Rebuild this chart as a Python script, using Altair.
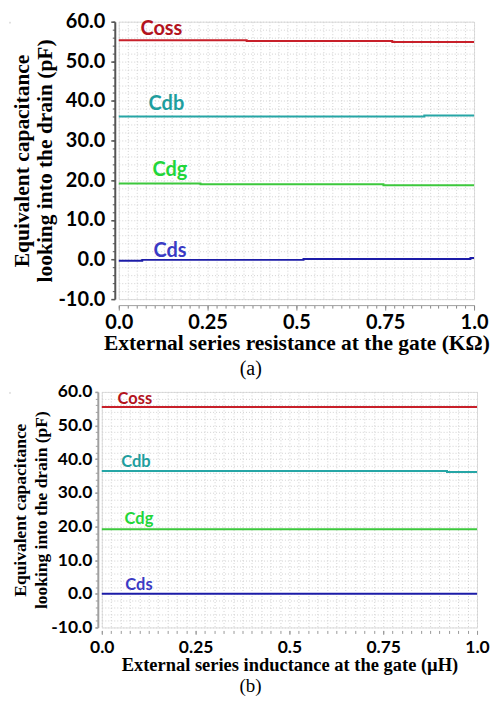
import altair as alt
import pandas as pd

SERIES = ["Coss", "Cdb", "Cdg", "Cds"]
LINE_COLORS = ["#C8202A", "#26A6A6", "#3CC83C", "#1C1CA8"]
TEXT_COLORS = ["#B3131D", "#1E9E9E", "#22D63A", "#3A3AC4"]

# ---- panel (a): external series resistance ----
A_X = {
    "Coss": [0.0, 0.36, 0.77, 1.0],
    "Cdb": [0.0, 0.86, 1.0],
    "Cdg": [0.0, 0.23, 0.745, 1.0],
    "Cds": [0.0, 0.066, 0.52, 0.99, 1.0],
}
A_Y = {
    "Coss": [55.3, 55.1, 54.9, 54.9],
    "Cdb": [36.1, 36.35, 36.35],
    "Cdg": [19.2, 19.0, 18.75, 18.75],
    "Cds": [-0.35, -0.1, 0.1, 0.35, 0.35],
}
A_LABEL_X = [0.12, 0.134, 0.144, 0.144]
A_LABEL_Y = [58.2, 39.3, 22.6, 2.1]

# ---- panel (b): external series inductance ----
B_X = {
    "Coss": [0.0, 1.0],
    "Cdb": [0.0, 0.92, 1.0],
    "Cdg": [0.0, 1.0],
    "Cds": [0.0, 1.0],
}
B_Y = {
    "Coss": [55.5, 55.5],
    "Cdb": [36.5, 36.2, 36.2],
    "Cdg": [19.2, 19.2],
    "Cds": [0.0, 0.0],
}
B_LABEL_X = [0.088, 0.091, 0.099, 0.099]
B_LABEL_Y = [57.8, 39.2, 22.2, 2.7]

X_MAJOR = [0.0, 0.25, 0.5, 0.75, 1.0]
X_MINOR = [round(i * 0.025, 3) for i in range(41)]
Y_MAJOR = [-10, 0, 10, 20, 30, 40, 50, 60]
Y_MINOR = list(range(-10, 61, 2))

A_XTITLE = "External series resistance at the gate (KΩ)"
B_XTITLE = "External series inductance at the gate (µH)"
YTITLE = ["Equivalent capacitance", "looking into the drain (pF)"]

X_LABEL_EXPR = ("datum.value == 0 || datum.value == 1 ? format(datum.value, '.1f') "
                ": format(datum.value, '.2~f')")
# plain hyphen for negatives, as in the original figure
Y_LABEL_EXPR = ("datum.value < 0 ? '-' + format(-datum.value, '.1f') "
                ": format(datum.value, '.1f')")


def line_df(xs, ys):
    rows = []
    for s in SERIES:
        for xv, yv in zip(xs[s], ys[s]):
            rows.append({"series": s, "x": xv, "y": yv})
    return pd.DataFrame(rows)


def panel(xs, ys, lx, ly, xtitle, caption, w, h, s):
    df = line_df(xs, ys)
    lab = pd.DataFrame({"series": SERIES, "x": lx, "y": ly})
    xsc = alt.Scale(domain=[0, 1], nice=False, zero=False)
    ysc = alt.Scale(domain=[-10, 60], nice=False, zero=False)

    minor = alt.Chart(df).mark_line(opacity=0).encode(
        x=alt.X("x:Q", scale=xsc, axis=alt.Axis(
            orient="bottom", values=X_MINOR, grid=True, gridColor="#d2d2d2",
            gridDash=[1, 2], gridWidth=1, domain=False, offset=s["xoff"],
            tickSize=3, tickColor=s["tickc"], labels=False, title=None)),
        y=alt.Y("y:Q", scale=ysc, axis=alt.Axis(
            orient="left", values=Y_MINOR, grid=True, gridColor="#d2d2d2",
            gridDash=[1, 2], gridWidth=1, domain=False, offset=s["yoff"],
            tickSize=2.5, tickColor=s["ydomc"], labels=False, title=None)),
        detail="series:N",
    )

    lines = alt.Chart(df).mark_line(interpolate="step-after", strokeWidth=2).encode(
        x=alt.X("x:Q", scale=xsc, axis=alt.Axis(
            orient="bottom", values=X_MAJOR, grid=False, domain=s["xdom"],
            domainColor="#a0a0a0", domainWidth=1, offset=s["xoff"],
            tickSize=s["xtick"], tickColor=s["tickc"], labelExpr=X_LABEL_EXPR,
            labelFont="Lato", labelFontWeight="bold", labelFontSize=s["lab"],
            labelColor="black", labelPadding=s["xlabpad"], labelFlush=False,
            title=xtitle, titleFont="Liberation Serif", titleFontWeight="bold",
            titleFontSize=s["xt"], titleColor="black", titlePadding=s["xtpad"])),
        y=alt.Y("y:Q", scale=ysc, axis=alt.Axis(
            orient="left", values=Y_MAJOR, grid=False, domain=True,
            domainColor=s["ydomc"], domainWidth=s["ydomw"], offset=s["yoff"],
            tickSize=s["ytick"], tickColor=s["ydomc"], tickWidth=1.5,
            labelExpr=Y_LABEL_EXPR,
            labelFont="Lato", labelFontWeight="bold", labelFontSize=s["lab"],
            labelColor="black", labelPadding=s["ylabpad"], labelFlush=False,
            title=YTITLE, titleFont="Liberation Serif", titleFontWeight="bold",
            titleFontSize=s["yt"], titleLineHeight=s["ytlh"], titleColor="black",
            titlePadding=s["ytpad"])),
        color=alt.Color("series:N", scale=alt.Scale(domain=SERIES, range=LINE_COLORS),
                        legend=None),
    )

    texts = alt.Chart(lab).mark_text(font="Lato", fontWeight="bold",
                                     fontSize=s["ser"]).encode(
        x=alt.X("x:Q", scale=xsc, axis=None),
        y=alt.Y("y:Q", scale=ysc, axis=None),
        text="series:N",
        color=alt.Color("series:N", scale=alt.Scale(domain=SERIES, range=TEXT_COLORS),
                        legend=None),
    )

    return alt.layer(minor, lines, texts).resolve_axis(
        x="independent", y="independent"
    ).resolve_scale(color="independent").properties(
        width=w, height=h,
        title=alt.TitleParams(caption, orient="bottom", anchor="middle", frame="bounds",
                              font="Liberation Serif", fontSize=s["cap"],
                              fontWeight="normal", color="black", offset=s["capoff"]),
    )


def spacer():
    # an empty cell so that each panel's full bounds start at the same left edge
    return alt.Chart(pd.DataFrame({"v": [0]})).mark_point(
        opacity=0, size=0, strokeWidth=0
    ).encode(
        x=alt.X("v:Q", axis=None), y=alt.Y("v:Q", axis=None)
    ).properties(width=1, height=1)


style_a = dict(xoff=6, yoff=4, tickc="#888888", ydomc="#555555", ydomw=2, xdom=True,
               xtick=5, ytick=4, lab=20, xlabpad=2, xt=21.5, xtpad=0, yt=21.5,
               ytlh=23, ytpad=1, ylabpad=6, ser=20, cap=20, capoff=6)
style_b = dict(xoff=3, yoff=4, tickc="#999999", ydomc="#a0a0a0", ydomw=2, xdom=False,
               xtick=4, ytick=3, lab=17.5, xlabpad=4, xt=18.5, xtpad=0, yt=17.5,
               ytlh=21, ytpad=0, ylabpad=3, ser=16.5, cap=19, capoff=3)

chart_a = panel(A_X, A_Y, A_LABEL_X, A_LABEL_Y, A_XTITLE, "(a)", 356, 278, style_a)
chart_b = panel(B_X, B_Y, B_LABEL_X, B_LABEL_Y, B_XTITLE, "(b)", 376, 236, style_b)

row_a = alt.hconcat(spacer(), chart_a, spacing=0)
row_b = alt.hconcat(spacer(), chart_b, spacing=0)

chart = alt.vconcat(row_a, row_b, spacing=2,
                    padding={"top": 2, "left": 0, "right": 0, "bottom": 0}).configure_view(
    strokeWidth=0
).configure(background="white")

chart.save("out.html", embed_options={"renderer": "svg", "actions": False})
